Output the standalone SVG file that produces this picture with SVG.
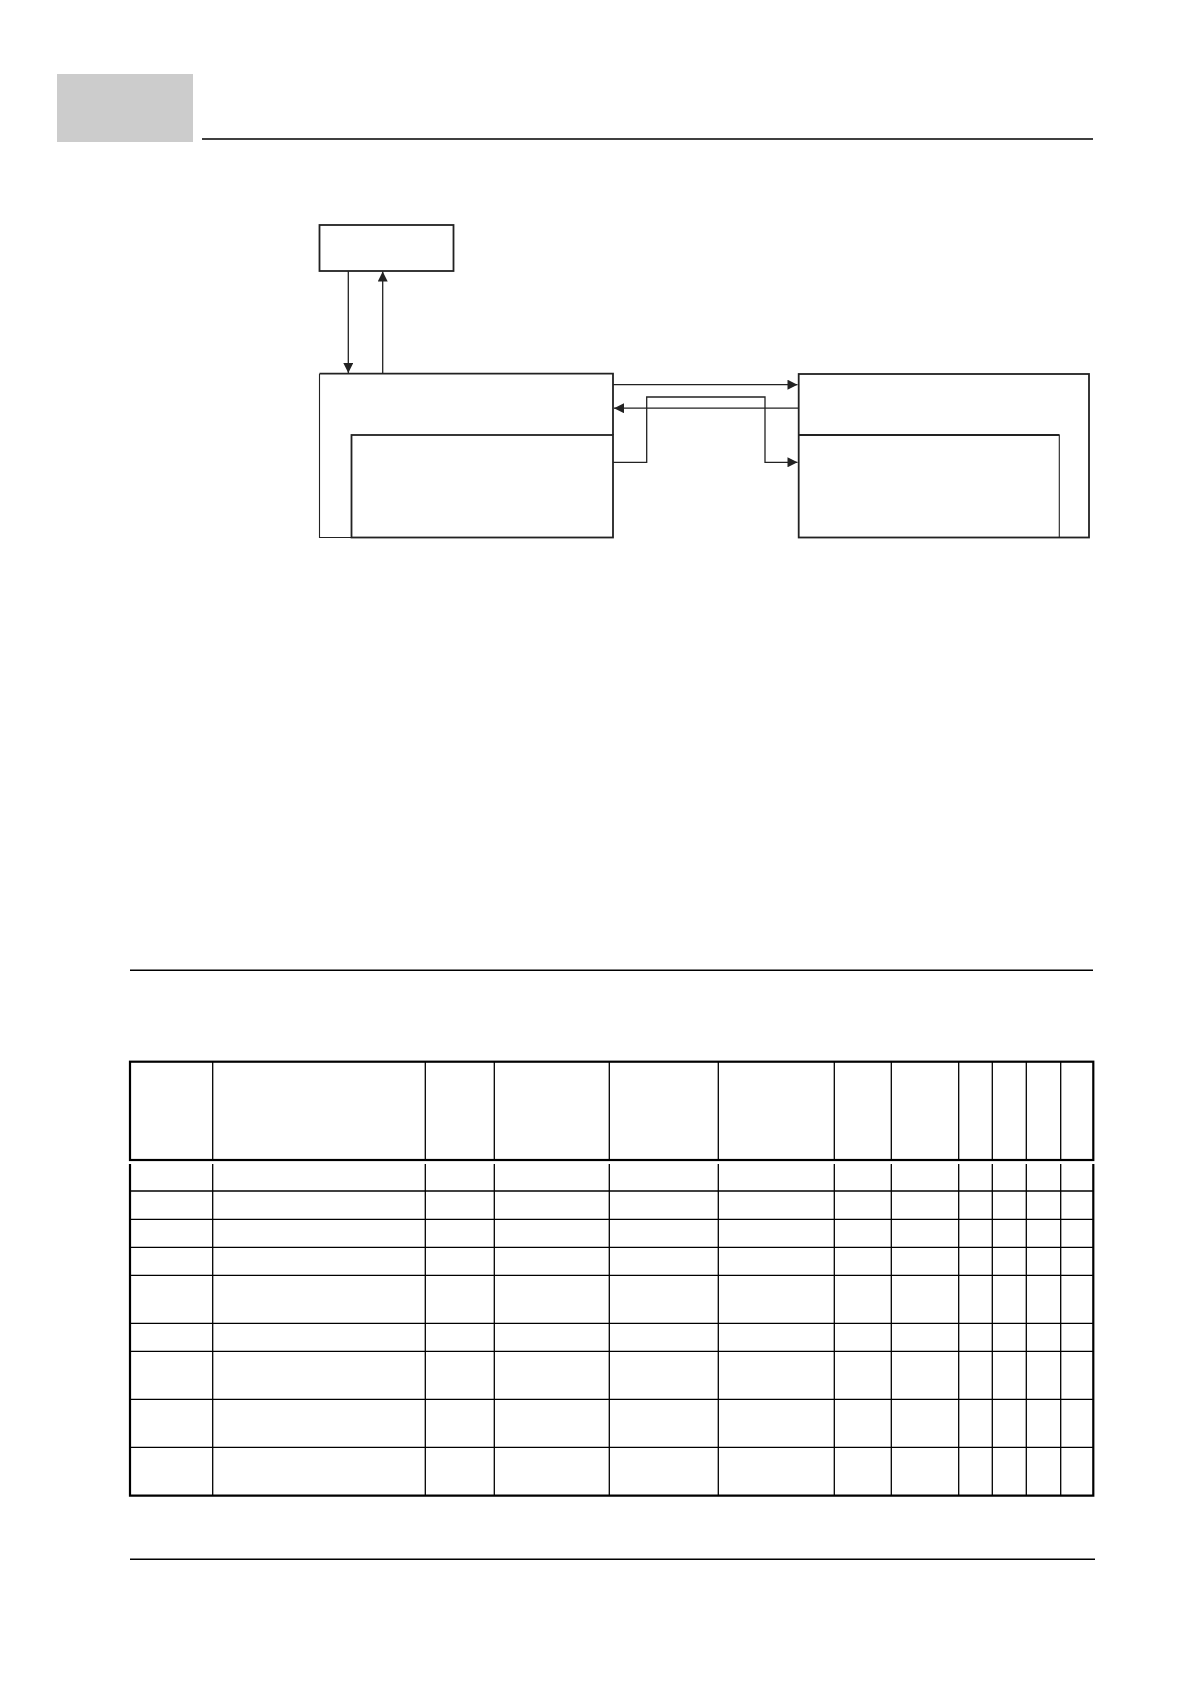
<svg xmlns="http://www.w3.org/2000/svg" width="1190" height="1684" viewBox="0 0 1190 1684">
<style>
.box{fill:none;stroke:#222;stroke-width:1.8}
.thin{fill:none;stroke:#222;stroke-width:1.1}
.conn{fill:none;stroke:#222;stroke-width:1.3}
.rule{stroke:#000;stroke-width:1.5}
.tk{stroke:#000;stroke-width:2.2;fill:none}
.tn{stroke:#000;stroke-width:1.3}
</style>
<defs>
<marker id="ah" viewBox="0 0 10 10" refX="10" refY="5" markerWidth="11" markerHeight="10" markerUnits="userSpaceOnUse" orient="auto">
<path d="M0,0 L10,5 L0,10 z" fill="#222"/>
</marker>
</defs>
<rect x="57" y="74" width="136" height="68" fill="#cccccc"/>
<line class="rule" x1="202" y1="139" x2="1093" y2="139"/>
<g id="node-top"><rect class="box" x="319.5" y="225" width="134" height="46"/></g>
<g id="node-left">
<path class="thin" d="M351.5,537.5 H319.5 V373.7"/>
<path class="box" d="M319.5,373.7 H613 V435"/>
</g>
<g id="node-left-inner"><rect class="box" x="351.5" y="435" width="261.5" height="102.5"/></g>
<g id="node-right"><rect class="box" x="798.7" y="374" width="290.3" height="163.5"/></g>
<g id="node-right-inner"><path class="thin" d="M798.7,435 H1059.3 V537.5"/><line class="box" x1="798.7" y1="435" x2="1059.3" y2="435"/></g>
<g id="connectors">
<line class="conn" x1="348.3" y1="271" x2="348.3" y2="373" marker-end="url(#ah)"/>
<line class="conn" x1="382.7" y1="373.7" x2="382.7" y2="271.5" marker-end="url(#ah)"/>
<line class="conn" x1="613" y1="384.7" x2="797.5" y2="384.7" marker-end="url(#ah)"/>
<line class="conn" x1="798.7" y1="408.2" x2="614" y2="408.2" marker-end="url(#ah)"/>
<path class="conn" d="M613,462.3 H646.7 V397 H765 V462.3 H797.5" marker-end="url(#ah)"/>
</g>
<line class="rule" x1="130" y1="970.3" x2="1093" y2="970.3"/>
<g id="table">
<rect class="tk" x="130" y="1061.7" width="963.3" height="98.3"/>
<path class="tk" d="M130,1164 V1495.7 H1093.3 V1164"/>
<g class="tn">
<line x1="212.7" y1="1062" x2="212.7" y2="1160"/><line x1="212.7" y1="1164" x2="212.7" y2="1495"/>
<line x1="425.3" y1="1062" x2="425.3" y2="1160"/><line x1="425.3" y1="1164" x2="425.3" y2="1495"/>
<line x1="494.3" y1="1062" x2="494.3" y2="1160"/><line x1="494.3" y1="1164" x2="494.3" y2="1495"/>
<line x1="609.3" y1="1062" x2="609.3" y2="1160"/><line x1="609.3" y1="1164" x2="609.3" y2="1495"/>
<line x1="718.3" y1="1062" x2="718.3" y2="1160"/><line x1="718.3" y1="1164" x2="718.3" y2="1495"/>
<line x1="834.3" y1="1062" x2="834.3" y2="1160"/><line x1="834.3" y1="1164" x2="834.3" y2="1495"/>
<line x1="891.3" y1="1062" x2="891.3" y2="1160"/><line x1="891.3" y1="1164" x2="891.3" y2="1495"/>
<line x1="958.7" y1="1062" x2="958.7" y2="1160"/><line x1="958.7" y1="1164" x2="958.7" y2="1495"/>
<line x1="992.3" y1="1062" x2="992.3" y2="1160"/><line x1="992.3" y1="1164" x2="992.3" y2="1495"/>
<line x1="1026.3" y1="1062" x2="1026.3" y2="1160"/><line x1="1026.3" y1="1164" x2="1026.3" y2="1495"/>
<line x1="1060.7" y1="1062" x2="1060.7" y2="1160"/><line x1="1060.7" y1="1164" x2="1060.7" y2="1495"/>
<line x1="130" y1="1191" x2="1093" y2="1191"/>
<line x1="130" y1="1219.3" x2="1093" y2="1219.3"/>
<line x1="130" y1="1247.3" x2="1093" y2="1247.3"/>
<line x1="130" y1="1275.3" x2="1093" y2="1275.3"/>
<line x1="130" y1="1323.3" x2="1093" y2="1323.3"/>
<line x1="130" y1="1351.3" x2="1093" y2="1351.3"/>
<line x1="130" y1="1399.3" x2="1093" y2="1399.3"/>
<line x1="130" y1="1447.3" x2="1093" y2="1447.3"/>
</g>
</g>
<line class="rule" x1="130" y1="1559.3" x2="1095" y2="1559.3"/>
</svg>
